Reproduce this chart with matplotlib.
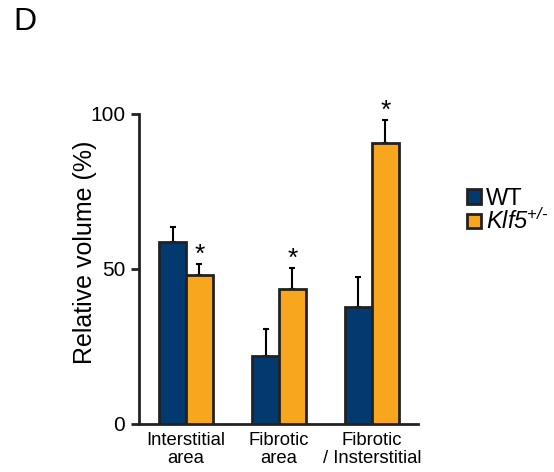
import numpy as np
import matplotlib
matplotlib.use("Agg")
import matplotlib.pyplot as plt
from matplotlib.patches import Patch

plt.rcParams['font.family'] = ['Liberation Sans', 'DejaVu Sans']
plt.rcParams['mathtext.fontset'] = 'custom'
plt.rcParams['mathtext.rm'] = 'Liberation Sans:italic'
plt.rcParams['mathtext.it'] = 'Liberation Sans:italic'

categories = ['Interstitial\narea', 'Fibrotic\narea', 'Fibrotic\n/ Insterstitial']
wt_mean = [58.7, 22.0, 37.8]
wt_err = [4.8, 8.6, 9.7]
klf5_mean = [48.1, 43.4, 90.5]
klf5_err = [3.5, 6.9, 7.5]
significant = [True, True, True]

blue = '#023a70'
orange = '#f7a61e'
edge = '#222222'

fig = plt.figure(figsize=(5.54, 4.72), dpi=100)
ax = fig.add_axes([0.251, 0.1017, 0.5035, 0.6568])

x = np.arange(len(categories))
w = 0.29
ax.bar(x - w / 2, wt_mean, w, color=blue, edgecolor=edge, linewidth=2, zorder=3)
ax.bar(x + w / 2, klf5_mean, w, color=orange, edgecolor=edge, linewidth=2, zorder=3)
ax.errorbar(x - w / 2, wt_mean, yerr=[np.zeros(3), wt_err], fmt='none',
            ecolor='black', elinewidth=1.5, capsize=2, capthick=1.5, zorder=2)
ax.errorbar(x + w / 2, klf5_mean, yerr=[np.zeros(3), klf5_err], fmt='none',
            ecolor='black', elinewidth=1.5, capsize=2, capthick=1.5, zorder=2)

for i in range(len(categories)):
    if significant[i]:
        ax.text(x[i] + w / 2, klf5_mean[i] + klf5_err[i] - 0.8, '*',
                ha='center', va='bottom', fontsize=19)

ax.set_xlim(-0.505, 2.495)
ax.set_ylim(0, 100)
ax.set_yticks([0, 50, 100])
ax.set_xticks(x)
ax.set_xticklabels(categories, fontsize=13.3, linespacing=1.05)
ax.tick_params(axis='x', length=0, pad=6)
ax.tick_params(axis='y', length=6, width=2, labelsize=15, pad=4, color=edge)
ax.set_ylabel('Relative volume (%)', fontsize=18)
ax.yaxis.set_label_coords(-0.152, 0.555)

for s in ['top', 'right']:
    ax.spines[s].set_visible(False)
for s in ['left', 'bottom']:
    ax.spines[s].set_linewidth(2)
    ax.spines[s].set_color(edge)

handles = [Patch(facecolor=blue, edgecolor=edge, linewidth=2),
           Patch(facecolor=orange, edgecolor=edge, linewidth=2)]
labels = ['WT', r'$Klf5^{+/\text{-}}$']
fig.legend(handles, labels, loc='upper left', bbox_to_anchor=(0.826, 0.622),
           frameon=False, fontsize=17, handlelength=0.58, handleheight=0.58,
           handletextpad=0.22, labelspacing=-0.05, borderaxespad=0)

fig.text(0.024, 0.954, 'D', fontsize=23, va='center', ha='left')

fig.savefig('out.png', dpi=100)
